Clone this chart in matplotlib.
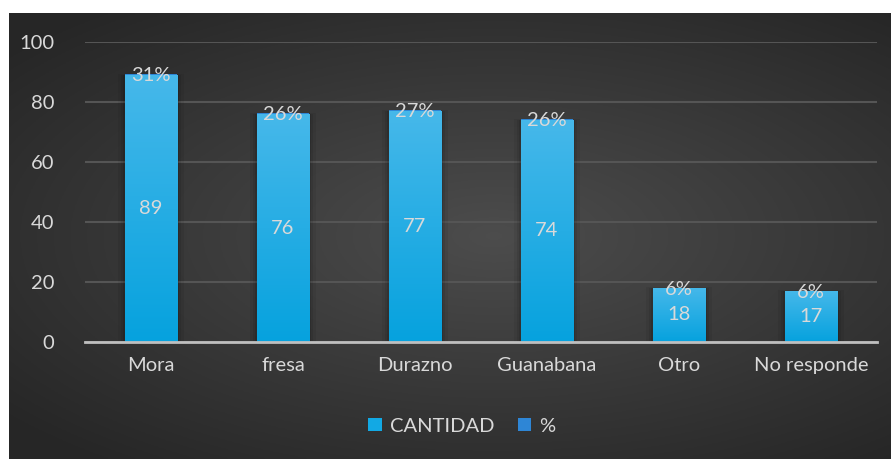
import matplotlib
matplotlib.use("Agg")
import matplotlib.pyplot as plt
import numpy as np
from matplotlib.patches import Rectangle

plt.rcParams['font.family'] = ['Lato', 'DejaVu Sans']

# datos
categorias = ['Mora', 'fresa', 'Durazno', 'Guanabana', 'Otro', 'No responde']
cantidad = [89, 76, 77, 74, 18, 17]
porcentaje = [0.31, 0.26, 0.27, 0.26, 0.06, 0.06]
etiquetas_pct = ['31%', '26%', '27%', '26%', '6%', '6%']

W, H = 891, 459
fs = 14.5
fig = plt.figure(figsize=(W / 100, H / 100), dpi=100)
fig.patch.set_facecolor('white')

# fondo con degradado radial
bg = fig.add_axes([9 / W, 0, (W - 9) / W, (H - 13) / H])
yy, xx = np.mgrid[-1:1:200j, -1:1:400j]
r = np.sqrt(((xx - 0.1) * 0.9) ** 2 + (yy * 1.0) ** 2)
r = np.clip(r / 1.3, 0, 1)
light, dark = 0.30, 0.15
grad = light - (light - dark) * r
bg.imshow(np.dstack([grad, grad, grad]), aspect='auto', extent=[0, 1, 0, 1])
bg.set_axis_off()

ax = fig.add_axes([85 / W, 1 - 342 / H, 792 / W, 300 / H])
ax.set_facecolor('none')
x = np.arange(len(categorias))
ancho = 0.40

# sombras suaves
for xi, v in zip(x, cantidad):
    for k, a in [(0.05, 0.06), (0.03, 0.08), (0.015, 0.10)]:
        ax.add_patch(Rectangle((xi - ancho / 2 - k, 0), ancho + 2 * k, v + k * 4,
                               color='black', alpha=a, lw=0, zorder=1))

barras = ax.bar(x, cantidad, ancho, color='#12A9E4', zorder=2, label='CANTIDAD')
ax.bar(x, porcentaje, ancho, bottom=cantidad, color='#2E86D6', zorder=2, label='%')

# degradado en barras
gbar = np.linspace(0, 1, 100).reshape(-1, 1)
c_top = np.array([0x46, 0xB8, 0xEA]) / 255
c_bot = np.array([0x06, 0xA2, 0xDE]) / 255
img = c_bot + (c_top - c_bot) * gbar[:, :, None]
for b in barras:
    b.set_facecolor('none')
    im = ax.imshow(img, aspect='auto', origin='lower', zorder=2.5,
                   extent=[b.get_x(), b.get_x() + b.get_width(), 0, b.get_height()])
    im.set_clip_path(b)

ax.set_xlim(-0.5, len(categorias) - 0.5)
ax.set_ylim(0, 100)
ax.set_yticks(range(0, 101, 20))
ax.set_xticks(x)
ax.set_xticklabels(categorias)
ax.yaxis.grid(True, color='#555555', lw=1.5, zorder=0)
ax.set_axisbelow(True)
for s in ['top', 'right', 'left']:
    ax.spines[s].set_visible(False)
ax.spines['bottom'].set_color('#BFBFBF')
ax.spines['bottom'].set_linewidth(2)
ax.spines['bottom'].set_zorder(3)
ax.tick_params(axis='both', length=0, colors='#D9D9D9', labelsize=fs)
ax.tick_params(axis='x', pad=11)
ax.tick_params(axis='y', pad=22)

# etiquetas
for xi, v, p, t in zip(x, cantidad, porcentaje, etiquetas_pct):
    ax.text(xi, v / 2, str(v), ha='center', va='center', color='#D9D9D9',
            fontsize=fs, zorder=4)
    ax.text(xi, v + p - 0.5, t, ha='center', va='center', color='#D9D9D9',
            fontsize=fs, zorder=4)

leg = ax.legend(loc='center', bbox_to_anchor=(462 / W, 1 - 426 / H),
                bbox_transform=fig.transFigure, ncol=2, frameon=False,
                fontsize=fs, handlelength=0.65, handleheight=0.65,
                handletextpad=0.4, columnspacing=1.2, labelcolor='#D9D9D9')
for h, c in zip(leg.legend_handles, ['#12A9E4', '#2E86D6']):
    h.set_facecolor(c)

fig.savefig('out.png', dpi=100)
